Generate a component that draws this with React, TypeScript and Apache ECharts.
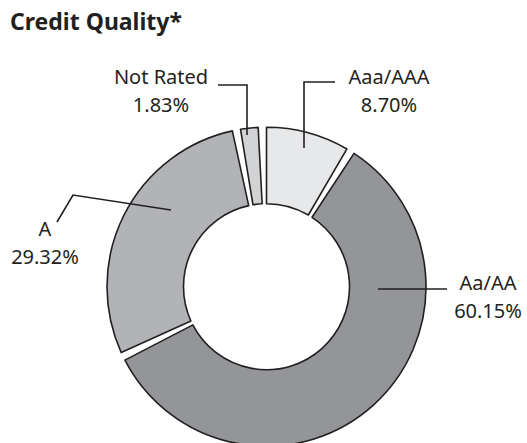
import React, { useEffect, useRef } from "react";
import * as echarts from "echarts";

const TITLE = "Credit Quality*";
const CATEGORIES = ["Aaa/AAA", "Aa/AA", "A", "Not Rated"];
const VALUES = [8.7, 60.15, 29.32, 1.83];
const COLORS = ["#e7e8e9", "#939598", "#b1b3b6", "#d2d3d5"];

// label placement (layout only)
const LABEL_POS = [
  { x: 389, y: 90.5, line: [[335, 82], [304, 82], [304, 148]] },
  { x: 488, y: 296, line: [[447, 289], [412, 289], [378, 289]] },
  { x: 45, y: 242.5, line: [[57, 222], [73, 195], [171, 210]] },
  { x: 161, y: 90, line: [[218, 85], [247, 85], [247, 135]] },
];

const GAP_DEG = 3;
const INK = "#231f20";
const FONT = "Noto Sans";

export default function App() {
  const ref = useRef<HTMLDivElement>(null);
  useEffect(() => {
    if (!ref.current) return;
    const chart = echarts.init(ref.current, null, { renderer: "svg" });
    const total = VALUES.reduce((a, b) => a + b, 0);
    const spacer = (GAP_DEG * total) / (360 - CATEGORIES.length * GAP_DEG);
    const buildData = (withFill: boolean) =>
      CATEGORIES.flatMap((name, i) => [
        {
          name,
          value: VALUES[i],
          itemStyle: withFill
            ? { color: COLORS[i] }
            : { color: "rgba(0,0,0,0)", borderWidth: 0 },
        },
        {
          name: "",
          value: spacer,
          itemStyle: { color: "rgba(0,0,0,0)", borderWidth: 0 },
          label: { show: false },
          labelLine: { show: false },
        },
      ]);
    const common = {
      type: "pie",
      silent: true,
      center: [266.5, 286.7],
      radius: [83, 159.5],
      startAngle: 90,
      clockwise: true,
      avoidLabelOverlap: false,
      emphasis: { disabled: true },
    };
    chart.setOption({
      animation: false,
      backgroundColor: "#ffffff",
      title: {
        text: TITLE,
        left: 10,
        top: 9,
        padding: 0,
        textStyle: {
          fontFamily: FONT,
          fontWeight: "bold",
          fontSize: 23,
          color: INK,
        },
      },
      series: [
        {
          ...common,
          z: 2,
          itemStyle: { borderColor: INK, borderWidth: 1.6 },
          label: { show: false },
          labelLine: { show: false },
          data: buildData(true),
        },
        {
          ...common,
          z: 5,
          label: {
            show: true,
            formatter: (p: any) => `${p.name}\n${Number(p.value).toFixed(2)}%`,
            fontFamily: FONT,
            fontSize: 20,
            lineHeight: 28,
            color: INK,
            align: "center",
          },
          labelLine: {
            show: true,
            smooth: false,
            lineStyle: { color: INK, width: 1.6 },
          },
          labelLayout: (params: any) => {
            const idx = params.dataIndex;
            if (idx % 2 === 1) return {};
            const L = LABEL_POS[idx / 2];
            return {
              x: L.x,
              y: L.y,
              align: "center",
              verticalAlign: "middle",
              labelLinePoints: L.line,
            };
          },
          data: buildData(false),
        },
      ],
    });
    return () => chart.dispose();
  }, []);
  return (
    <div
      ref={ref}
      style={{ position: "absolute", left: 0, top: 0, width: 527, height: 443 }}
    />
  );
}
